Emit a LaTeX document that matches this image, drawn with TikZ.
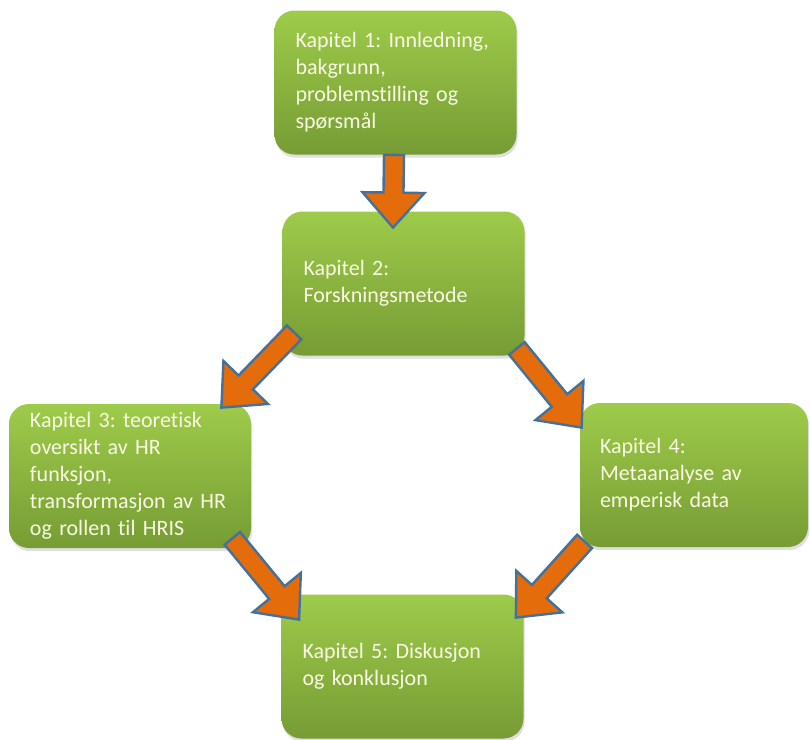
\documentclass[tikz,border=0pt]{standalone}
\usepackage{fontspec}
\setmainfont{Carlito}[Ligatures={NoCommon,NoRare}]
\frenchspacing
\usepackage{tikz}
\usetikzlibrary{
  calc,
  shadows
}
\definecolor{chaptop}{RGB}{158,203,74}
\definecolor{chapbot}{RGB}{118,156,52}
\definecolor{chaptext}{RGB}{250,250,228}
\definecolor{arrowfill}{RGB}{228,108,10}
\definecolor{arrowedge}{RGB}{65,113,156}

\begin{document}
\begin{tikzpicture}[
  x=0.5pt, y=-0.5pt,
  chap/.style={
    rectangle, rounded corners=10pt, top color=chaptop, bottom color=chapbot,
    minimum width=121pt, minimum height=72pt, text width=100pt,
    inner xsep=10pt, inner ysep=2pt, align=left, text=chaptext,
    font=\fontsize{11}{13.5}\selectfont,
    drop shadow={shadow xshift=0.6pt, shadow yshift=-1.6pt, opacity=0.25}
  },
  blockarr/.style={
    draw=arrowedge, fill=arrowfill, line width=1.2pt, line join=miter,
    to path={
      -- ($(\tikztostart)!5pt!90:(\tikztotarget)$)
      -- ($(\tikztotarget)!17.5pt!(\tikztostart)!5pt!-90:(\tikztostart)$)
      -- ($(\tikztotarget)!17.5pt!(\tikztostart)!15.5pt!-90:(\tikztostart)$)
      -- (\tikztotarget)
      -- ($(\tikztotarget)!17.5pt!(\tikztostart)!15.5pt!90:(\tikztostart)$)
      -- ($(\tikztotarget)!17.5pt!(\tikztostart)!5pt!90:(\tikztostart)$)
      -- ($(\tikztostart)!5pt!-90:(\tikztotarget)$)
      -- cycle
    }
  },
]
\useasboundingbox (0,0) rectangle (810,740);

\node[chap] (ch1) at (395.5,82.5)  {Kapitel 1: Innledning,\\ bakgrunn,\\ problemstilling og\\ spørsmål};
\node[chap] (ch2) at (403.5,283.5) {Kapitel 2:\\ Forskningsmetode};
\node[chap] (ch3) at (130,476)     {Kapitel 3: teoretisk\\ oversikt av HR\\ funksjon,\\ transformasjon av HR\\ og rollen til HRIS};
\node[chap, minimum width=114pt, text width=94pt] (ch4) at (694,475) {Kapitel 4:\\ Metaanalyse av\\ emperisk data};
\node[chap] (ch5) at (402.5,666.5) {Kapitel 5: Diskusjon\\ og konklusjon};

\draw[blockarr] ([shift={(-1.5,0)}]ch1.south)     to ([shift={(-10.5,16.5)}]ch2.north);
\draw[blockarr] ([shift={(12,-23.5)}]ch2.south west) to ([shift={(-30,4)}]ch3.north east);
\draw[blockarr] ([shift={(-8,-7.5)}]ch2.south east)  to ([shift={(2,25)}]ch4.north west);
\draw[blockarr] ([shift={(-19,-10)}]ch3.south east)  to ([shift={(18,25.5)}]ch5.north west);
\draw[blockarr] ([shift={(5,-6)}]ch4.south west)     to ([shift={(-8,23.5)}]ch5.north east);

\end{tikzpicture}
\end{document}
